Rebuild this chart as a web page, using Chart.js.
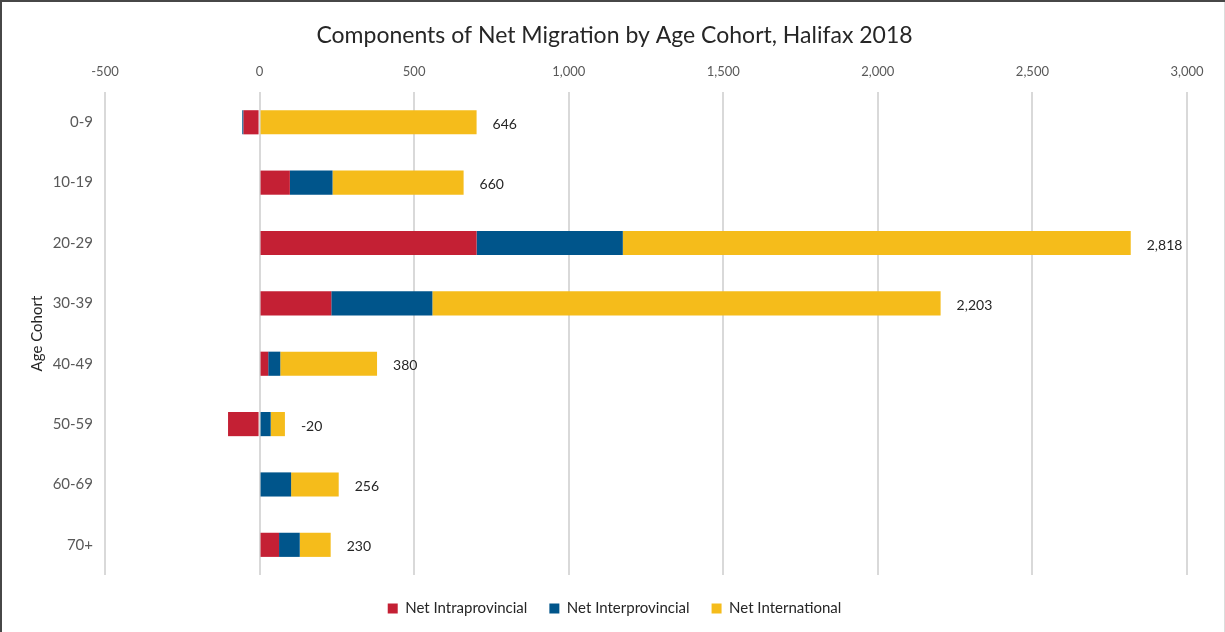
<!DOCTYPE html>
<html>
<head>
<meta charset="utf-8">
<title>Components of Net Migration by Age Cohort, Halifax 2018</title>
<script src="https://cdn.jsdelivr.net/npm/chart.js@4/dist/chart.umd.min.js"></script>
<style>
  html, body { margin: 0; padding: 0; background: #ffffff; }
  #wrap { width: 1225px; height: 632px; }
</style>
</head>
<body>
<div id="wrap"><canvas id="chart" width="1225" height="632"></canvas></div>
<script>
// Age cohorts (rows, top to bottom)
const cohorts = ['0-9', '10-19', '20-29', '30-39', '40-49', '50-59', '60-69', '70+'];

// Net migration components per cohort
const netIntraprovincial = [-52, 98, 702, 232, 28, -102, 0, 63];
const netInterprovincial = [-4, 138, 473, 327, 39, 36, 102, 67];
const netInternational   = [702, 424, 1643, 1644, 313, 46, 154, 100];

// Value axis ticks
const axisMin = -500;
const axisMax = 3000;
const axisStep = 500;

const COLORS = {
  intra: '#C42034',
  inter: '#00558B',
  intl:  '#F5BC1B',
  tick:  '#595959',
  text:  '#262626',
  grid:  '#d9d9d9'
};
const FONT = 'Lato, "Open Sans", "Noto Sans", sans-serif';

const fmt = v => Math.round(v).toLocaleString('en-US');

// Page background and frame
const framePlugin = {
  id: 'frame',
  beforeDraw(chart) {
    const { ctx, width, height } = chart;
    ctx.save();
    ctx.fillStyle = '#ffffff';
    ctx.fillRect(0, 0, width, height);
    ctx.fillStyle = '#474747';
    ctx.fillRect(0, 0, width, 2);
    ctx.fillRect(0, 0, 2, height);
    ctx.fillStyle = '#dcdcdc';
    ctx.fillRect(width - 1, 2, 1, height - 2);
    ctx.restore();
  }
};

// Net total written just past the right end of each bar
const totalLabels = {
  id: 'totalLabels',
  afterDatasetsDraw(chart) {
    const { ctx } = chart;
    const x = chart.scales.x;
    const y = chart.scales.y;
    ctx.save();
    ctx.font = '14px ' + FONT;
    ctx.fillStyle = COLORS.text;
    ctx.textAlign = 'left';
    ctx.textBaseline = 'middle';
    cohorts.forEach((c, i) => {
      const parts = [netIntraprovincial[i], netInterprovincial[i], netInternational[i]];
      const total = parts.reduce((a, b) => a + b, 0);
      const posEnd = parts.filter(v => v > 0).reduce((a, b) => a + b, 0);
      const px = x.getPixelForValue(posEnd) + 16;
      const py = y.getPixelForValue(i) + 2;
      ctx.fillText(fmt(total), px, py);
    });
    ctx.restore();
  }
};

new Chart(document.getElementById('chart'), {
  type: 'bar',
  data: {
    labels: cohorts,
    datasets: [
      { label: 'Net Intraprovincial', data: netIntraprovincial, backgroundColor: COLORS.intra },
      { label: 'Net Interprovincial', data: netInterprovincial, backgroundColor: COLORS.inter },
      { label: 'Net International',   data: netInternational,   backgroundColor: COLORS.intl }
    ]
  },
  options: {
    indexAxis: 'y',
    responsive: false,
    animation: false,
    devicePixelRatio: 1,
    datasets: {
      bar: { barPercentage: 0.4, categoryPercentage: 1.0, borderWidth: 0 }
    },
    layout: { padding: { left: 42, right: 38, top: 0, bottom: 6 } },
    scales: {
      x: {
        position: 'top',
        stacked: true,
        min: axisMin,
        max: axisMax,
        ticks: {
          stepSize: axisStep,
          color: COLORS.tick,
          font: { family: FONT, size: 13 },
          padding: 12,
          callback: v => fmt(v)
        },
        grid: { color: COLORS.grid, lineWidth: 2, drawTicks: false },
        border: { display: false },
        afterFit(scale) { scale.height = 42.5; }
      },
      y: {
        stacked: true,
        ticks: {
          color: COLORS.tick,
          font: { family: FONT, size: 15 },
          padding: 12
        },
        grid: { display: false, drawTicks: false },
        border: { display: false },
        title: {
          display: true,
          text: 'Age Cohort',
          color: COLORS.text,
          font: { family: FONT, size: 15 },
          padding: { top: -14, bottom: 4 }
        },
        afterFit(scale) { scale.width = 63; }
      }
    },
    plugins: {
      title: {
        display: true,
        text: 'Components of Net Migration by Age Cohort, Halifax 2018',
        color: COLORS.text,
        font: { family: FONT, size: 23, weight: 'normal' },
        padding: { top: 22, bottom: 0 }
      },
      legend: {
        position: 'bottom',
        // empty title used only as a spacer above the legend row
        title: {
          display: true,
          text: '',
          font: { family: FONT, size: 0 },
          padding: { top: 4, bottom: 0 }
        },
        labels: {
          color: COLORS.text,
          font: { family: FONT, size: 15 },
          boxWidth: 10,
          boxHeight: 10,
          padding: 22
        }
      },
      tooltip: { enabled: false }
    }
  },
  plugins: [framePlugin, totalLabels]
});
</script>
</body>
</html>
